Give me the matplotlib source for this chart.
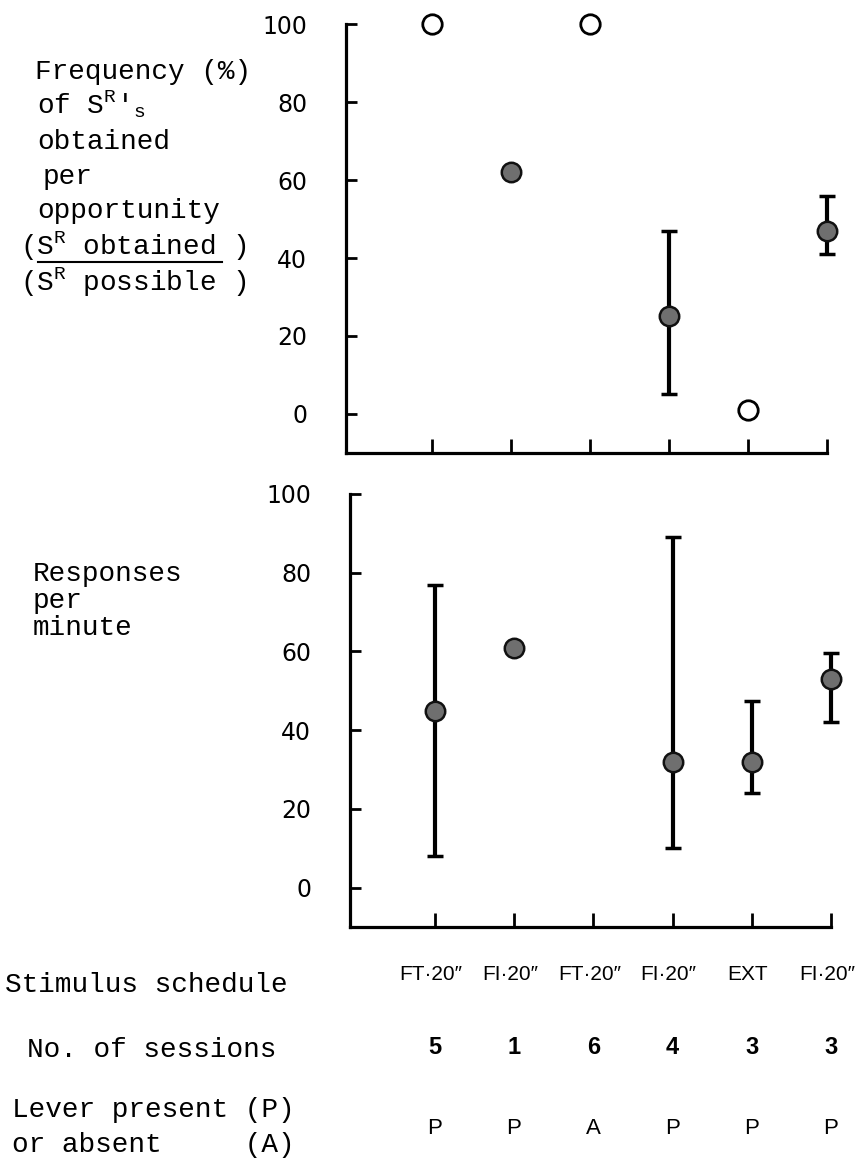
import numpy as np
import matplotlib
matplotlib.use("Agg")
import matplotlib.pyplot as plt
from matplotlib.lines import Line2D
from matplotlib.transforms import blended_transform_factory

plt.rcParams['mathtext.fontset'] = 'custom'
plt.rcParams['mathtext.rm'] = 'Liberation Mono'
plt.rcParams['mathtext.it'] = 'Liberation Mono'

# conditions in order along the x axis
schedules = ['FT\u00b720\u2033', 'FI\u00b720\u2033', 'FT\u00b720\u2033',
             'FI\u00b720\u2033', 'EXT', 'FI\u00b720\u2033']
sessions = [5, 1, 6, 4, 3, 3]
lever = ['P', 'P', 'A', 'P', 'P', 'P']

# top panel: frequency (%) of reinforcers obtained per opportunity
freq = [100, 62, 100, 25, 1, 47]
freq_lo = [np.nan, np.nan, np.nan, 5, np.nan, 41]
freq_hi = [np.nan, np.nan, np.nan, 47, np.nan, 56]
freq_filled = [False, True, False, True, False, True]

# bottom panel: responses per minute (no lever in condition 3)
rate = [45, 61, np.nan, 32, 32, 53]
rate_lo = [8, np.nan, np.nan, 10, 24, 42]
rate_hi = [77, np.nan, np.nan, 89, 47.5, 59.5]

yticks = [0, 20, 40, 60, 80, 100]

W, H = 860, 1166
def fx(px):
    return px / W
def fy(py):
    return 1 - py / H

mono = 'Liberation Mono'
sans = ['Liberation Sans', 'DejaVu Sans']

fig = plt.figure(figsize=(8.6, 11.66), dpi=100)
ax1 = fig.add_axes([fx(346), fy(453), fx(827) - fx(346), fy(24) - fy(453)])
ax2 = fig.add_axes([fx(350), fy(927), fx(831) - fx(350), fy(494) - fy(927)])

xs = np.arange(1, len(schedules) + 1)


def style(ax, left):
    ax.set_xlim(left, 6.0)
    ax.set_ylim(-10, 100)
    ax.set_xticks(xs)
    ax.set_yticks(yticks)
    ax.set_yticklabels([str(v) for v in yticks], fontfamily='DejaVu Sans')
    for s in ['top', 'right']:
        ax.spines[s].set_visible(False)
    for s in ['left', 'bottom']:
        ax.spines[s].set_linewidth(2.3)
    ax.tick_params(axis='y', direction='in', length=8, width=2, labelsize=17, pad=28)
    ax.tick_params(axis='x', direction='in', length=10, width=2, labelbottom=False)


def draw(ax, vals, lo, hi, filled):
    for x, v, l, h, f in zip(xs, vals, lo, hi, filled):
        if np.isnan(v):
            continue
        if not np.isnan(l):
            ax.errorbar(x, v, yerr=[[v - l], [h - v]], fmt='none', ecolor='black',
                        elinewidth=3, capsize=6, capthick=2.5, clip_on=False, zorder=2)
        if f:
            ax.plot(x, v, 'o', ms=14, mfc='#6f6f6f', mec='#111111', mew=1.8,
                    clip_on=False, zorder=3)
        else:
            ax.plot(x, v, 'o', ms=14, mfc='white', mec='black', mew=2,
                    clip_on=False, zorder=3)


style(ax1, -0.09)
style(ax2, -0.07)
draw(ax1, freq, freq_lo, freq_hi, freq_filled)
draw(ax2, rate, rate_lo, rate_hi, [True] * len(rate))

# left-hand labels, top panel
fs = 20
top_lines = [
    (35, 72, 'Frequency (%)'),
    (37, 104, r"of S$^{\mathrm{R}}$'$_{\mathrm{s}}$"),
    (37, 142, 'obtained'),
    (43, 177, 'per'),
    (37, 211, 'opportunity'),
    (20, 246, r'(S$^{\mathrm{R}}$ obtained )'),
    (20, 282, r'(S$^{\mathrm{R}}$ possible )'),
]
for px, py, s in top_lines:
    fig.text(fx(px), fy(py), s, fontsize=fs, family=mono, ha='left', va='center')
fig.add_artist(Line2D([fx(38), fx(222)], [fy(262), fy(262)], color='black', lw=1.5))

# left-hand labels, bottom panel
for py, s in [(574, 'Responses'), (601, 'per'), (628, 'minute')]:
    fig.text(fx(33), fy(py), s, fontsize=fs, family=mono, ha='left', va='center')

# table below the bottom axis
fig.text(fx(5), fy(985), 'Stimulus schedule', fontsize=fs, family=mono, va='center')
fig.text(fx(27), fy(1050), 'No. of sessions', fontsize=fs, family=mono, va='center')
fig.text(fx(12), fy(1110), 'Lever present (P)', fontsize=fs, family=mono, va='center')
fig.text(fx(12), fy(1145), 'or absent     (A)', fontsize=fs, family=mono, va='center')

tr = blended_transform_factory(ax2.transData, fig.transFigure)
for x, s, n, p in zip(xs, schedules, sessions, lever):
    fig.text(x - 0.05, fy(975), s, transform=tr, fontsize=15, family=sans,
             ha='center', va='center')
    fig.text(x, fy(1048), str(n), transform=tr, fontsize=17, family=sans,
             fontweight='bold', ha='center', va='center')
    fig.text(x, fy(1128), p, transform=tr, fontsize=16, family=sans, ha='center', va='center')

fig.savefig('out.png', dpi=100)
